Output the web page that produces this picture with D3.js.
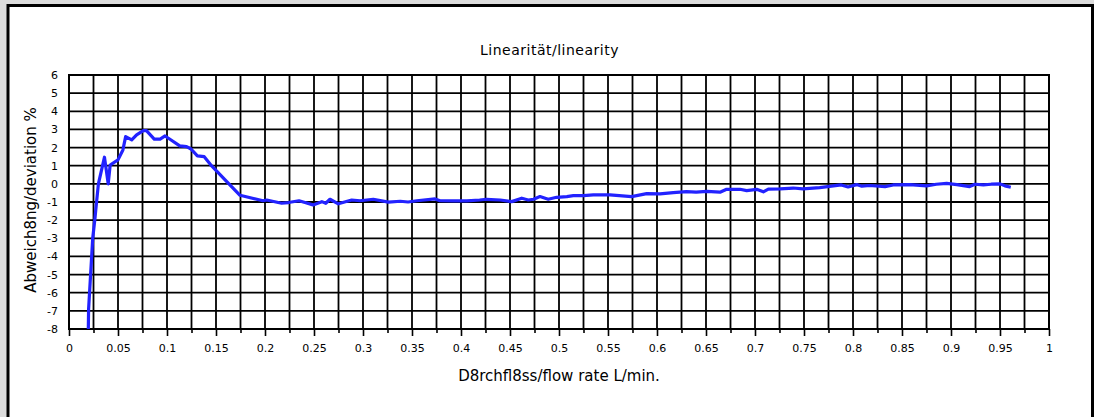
<!DOCTYPE html>
<html>
<head>
<meta charset="utf-8">
<script src="https://cdn.jsdelivr.net/npm/d3@7"></script>
<style>
  html, body { margin: 0; padding: 0; background: #dcdcdc; }
  svg { display: block; }
  text { font-family: "DejaVu Sans", sans-serif; fill: #000; }
</style>
</head>
<body>
<svg id="chart" width="1094" height="417"></svg>
<script>
// ---- data ----
const flowRate = [0.0197,0.0200,0.0242,0.0265,0.0272,0.0300,0.0362,0.0400,0.0420,0.0500,0.0550,0.0578,0.0640,0.0690,0.0758,0.0790,0.0870,0.0930,0.0980,0.1030,0.1130,0.1200,0.1245,0.1310,0.1380,0.1456,0.1610,0.1745,0.1980,0.2017,0.2170,0.2240,0.2347,0.2408,0.2490,0.2580,0.2620,0.2663,0.2748,0.2885,0.2970,0.3105,0.3260,0.3380,0.3460,0.3550,0.3735,0.3786,0.3920,0.4060,0.4190,0.4260,0.4400,0.4517,0.4620,0.4687,0.4740,0.4806,0.4890,0.4976,0.5080,0.5146,0.5250,0.5350,0.5520,0.5740,0.5895,0.6030,0.6166,0.6300,0.6400,0.6507,0.6643,0.6710,0.6847,0.6915,0.7017,0.7085,0.7136,0.7255,0.7390,0.7490,0.7660,0.7880,0.7950,0.8037,0.8090,0.8170,0.8327,0.8410,0.8580,0.8750,0.8850,0.8956,0.9060,0.9190,0.9245,0.9330,0.9410,0.9500,0.9550,0.9610];
const deviation = [-8,-6.9,-3.0,-1.9,-1.5,0.0,1.47,0.0,1.04,1.32,1.87,2.6,2.42,2.7,2.93,2.93,2.47,2.47,2.64,2.46,2.09,2.05,1.92,1.54,1.50,0.99,0.12,-0.63,-0.93,-0.89,-1.07,-1.03,-0.93,-1.03,-1.16,-0.98,-1.07,-0.85,-1.10,-0.89,-0.93,-0.85,-1.01,-0.96,-1.00,-0.93,-0.83,-0.93,-0.94,-0.94,-0.89,-0.85,-0.89,-0.98,-0.79,-0.89,-0.85,-0.70,-0.85,-0.74,-0.70,-0.65,-0.65,-0.61,-0.61,-0.70,-0.54,-0.55,-0.48,-0.43,-0.46,-0.41,-0.46,-0.30,-0.30,-0.37,-0.30,-0.44,-0.29,-0.28,-0.23,-0.28,-0.21,-0.06,-0.17,-0.04,-0.13,-0.09,-0.15,-0.06,-0.04,-0.11,-0.02,0.03,-0.04,-0.15,-0.02,-0.06,-0.02,0.00,-0.11,-0.19];
const xMajorTicks = [0,0.05,0.1,0.15,0.2,0.25,0.3,0.35,0.4,0.45,0.5,0.55,0.6,0.65,0.7,0.75,0.8,0.85,0.9,0.95,1];
const xMinorTicks = [0.025,0.075,0.125,0.175,0.225,0.275,0.325,0.375,0.425,0.475,0.525,0.575,0.625,0.675,0.725,0.775,0.825,0.875,0.925,0.975];
const yTicks = [-8,-7,-6,-5,-4,-3,-2,-1,0,1,2,3,4,5,6];
const titleText = "Linearität/linearity";
const xTitle = "D8rchfl8ss/flow rate L/min.";
const yTitle = "Abweich8ng/deviation %";

// ---- layout ----
const svg = d3.select("#chart");
const plot = { left: 69, right: 1049, top: 75, bottom: 329 };

svg.append("rect")
  .attr("x", 8).attr("y", 5.5).attr("width", 1084.5).attr("height", 420)
  .attr("fill", "#fff").attr("stroke", "#000").attr("stroke-width", 3);

const x = d3.scaleLinear().domain([0, 1]).range([plot.left, plot.right]);
const y = d3.scaleLinear().domain([-8, 6]).range([plot.bottom, plot.top]);

const g = svg.append("g");

// vertical grid
g.selectAll("line.vgrid")
  .data(xMajorTicks.concat(xMinorTicks))
  .enter().append("line")
  .attr("x1", d => x(d)).attr("x2", d => x(d))
  .attr("y1", plot.top).attr("y2", plot.bottom)
  .attr("stroke", "#000").attr("stroke-width", 1.8);

// horizontal grid
g.selectAll("line.hgrid")
  .data(yTicks)
  .enter().append("line")
  .attr("x1", plot.left).attr("x2", plot.right)
  .attr("y1", d => y(d)).attr("y2", d => y(d))
  .attr("stroke", "#000").attr("stroke-width", 1.8);

// frame
g.append("rect")
  .attr("x", plot.left).attr("y", plot.top)
  .attr("width", plot.right - plot.left).attr("height", plot.bottom - plot.top)
  .attr("fill", "none").attr("stroke", "#000").attr("stroke-width", 2);

// x axis ticks and labels
const xAxis = d3.axisBottom(x).tickValues(xMajorTicks).tickSize(7).tickPadding(8)
  .tickFormat(d => String(+d.toFixed(3)));
const xa = svg.append("g").attr("transform", `translate(0,${plot.bottom})`).call(xAxis);
xa.select(".domain").remove();
xa.selectAll(".tick line").attr("stroke", "#000").attr("stroke-width", 1.6);
xa.selectAll(".tick text").attr("font-size", 11).attr("font-family", "DejaVu Sans").attr("fill", "#000");

const xMinorAxis = d3.axisBottom(x).tickValues(xMinorTicks).tickSize(4).tickFormat("");
const xm = svg.append("g").attr("transform", `translate(0,${plot.bottom})`).call(xMinorAxis);
xm.select(".domain").remove();
xm.selectAll(".tick line").attr("stroke", "#000").attr("stroke-width", 1.6);

// y axis labels (plain hyphen-minus as in the original)
const yAxis = d3.axisLeft(y).tickValues(yTicks).tickSize(0).tickPadding(11).tickFormat(d => String(d));
const ya = svg.append("g").attr("transform", `translate(${plot.left},0)`).call(yAxis);
ya.select(".domain").remove();
ya.selectAll(".tick text").attr("font-size", 11).attr("font-family", "DejaVu Sans").attr("fill", "#000");

// curve
const line = d3.line().x(d => x(d[0])).y(d => y(d[1]));
svg.append("path")
  .datum(flowRate.map((v, i) => [v, deviation[i]]))
  .attr("d", line)
  .attr("fill", "none").attr("stroke", "#2222ff").attr("stroke-width", 3.2)
  .attr("stroke-linejoin", "round");

// titles
svg.append("text").attr("x", 549.5).attr("y", 55).attr("text-anchor", "middle")
  .attr("font-size", 14).attr("letter-spacing", 0.5).text(titleText);
svg.append("text").attr("x", (plot.left + plot.right) / 2).attr("y", 380.5).attr("text-anchor", "middle")
  .attr("font-size", 15).text(xTitle);
svg.append("text").attr("transform", "translate(36,200) rotate(-90)").attr("text-anchor", "middle")
  .attr("font-size", 15).text(yTitle);
</script>
</body>
</html>
